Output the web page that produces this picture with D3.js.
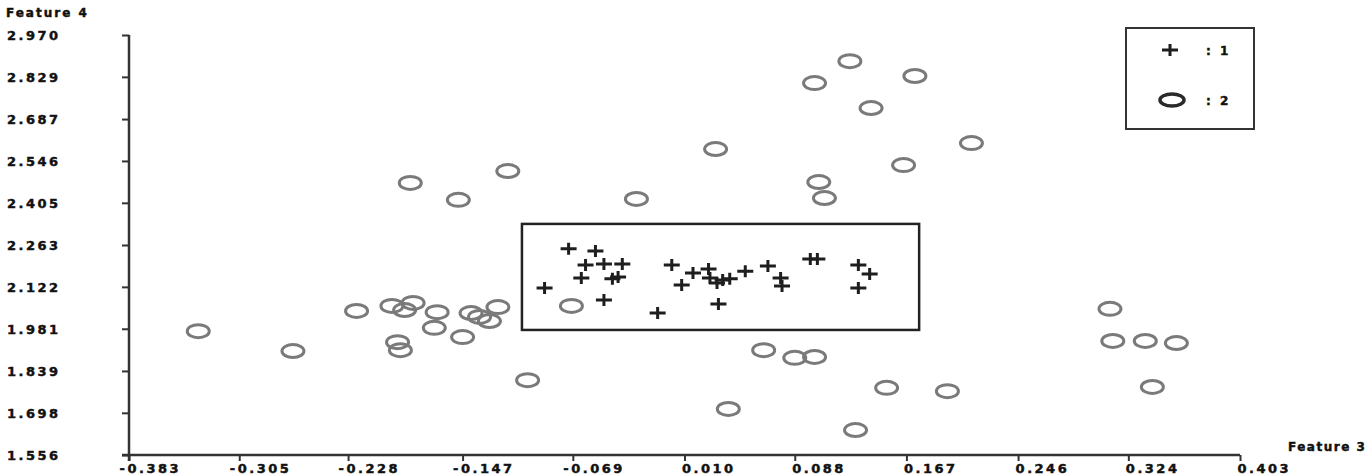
<!DOCTYPE html>
<html>
<head>
<meta charset="utf-8">
<script src="https://cdn.jsdelivr.net/npm/d3@7"></script>
<style>
  body { margin: 0; background: #fff; }
  text { font-family: "DejaVu Sans", sans-serif; font-weight: bold; fill: #111; stroke: #111; stroke-width: 0.45px; }
</style>
</head>
<body>
<div id="chart"></div>
<script>
// tick labels as printed on the axes
var xTicks = [-0.383, -0.305, -0.228, -0.147, -0.069, 0.010, 0.088, 0.167, 0.246, 0.324, 0.403];
var yTicks = [1.556, 1.698, 1.839, 1.981, 2.122, 2.263, 2.405, 2.546, 2.687, 2.829, 2.970];

// class 1 (+)
var class1X = [-0.089, -0.072, -0.053, -0.060, -0.047, -0.034, -0.063, -0.041, -0.037, -0.047,
  0.001, 0.008, 0.016, 0.027, 0.028, 0.033, 0.042, 0.053, 0.069, 0.078,
  0.079, 0.099, 0.104, 0.133, 0.141, 0.133, -0.009, 0.034, 0.037];
var class1Y = [2.118, 2.250, 2.243, 2.196, 2.199, 2.199, 2.152, 2.149, 2.155, 2.078,
  2.196, 2.128, 2.169, 2.182, 2.152, 2.135, 2.149, 2.175, 2.192, 2.152,
  2.125, 2.216, 2.216, 2.196, 2.165, 2.118, 2.034, 2.064, 2.145];

// class 2 (o)
var class2X = [-0.334, -0.267, -0.222, -0.197, -0.188, -0.182, -0.193, -0.191, -0.165, -0.167,
  -0.147, -0.141, -0.135, -0.128, -0.122, -0.101, -0.070, -0.184, -0.150, -0.115,
  -0.024, 0.032, 0.102, 0.127, 0.173, 0.142, 0.213, 0.165, 0.105, 0.109,
  0.066, 0.088, 0.102, 0.041, 0.153, 0.196, 0.131, 0.311, 0.313, 0.336,
  0.358, 0.341];
var class2Y = [1.973, 1.906, 2.041, 2.058, 2.044, 2.068, 1.936, 1.909, 2.037, 1.984,
  1.953, 2.034, 2.021, 2.007, 2.054, 1.808, 2.058, 2.472, 2.415, 2.512,
  2.418, 2.586, 2.808, 2.882, 2.832, 2.724, 2.606, 2.532, 2.475, 2.421,
  1.909, 1.883, 1.886, 1.711, 1.782, 1.771, 1.640, 2.048, 1.940, 1.940,
  1.933, 1.785];

// rectangle drawn around class 1 (data units)
var boxX = [-0.105, 0.176];
var boxY = [1.977, 2.334];

var width = 1368, height = 475;
var svg = d3.select("#chart").append("svg")
  .attr("width", width)
  .attr("height", height);

var x = d3.scaleLinear().domain([-0.383, 0.403]).range([129, 1240]);
var y = d3.scaleLinear().domain([1.556, 2.970]).range([455, 35]);

var axisColor = "#333";

// y axis
var yAxis = svg.append("g")
  .attr("transform", "translate(" + x(-0.383) + ",0)")
  .call(d3.axisLeft(y).tickValues(yTicks).tickSize(7).tickFormat(d3.format(".3f")));
yAxis.select(".domain").remove();
yAxis.selectAll("line").attr("stroke", axisColor).attr("stroke-width", 2);
yAxis.selectAll("text")
  .attr("x", -122).attr("text-anchor", "start")
  .attr("dy", "0.35em")
  .style("font-size", "13px").style("letter-spacing", "2.5px")
  .style("font-family", "DejaVu Sans").style("font-weight", "bold");
svg.append("line")
  .attr("x1", x(-0.383)).attr("x2", x(-0.383))
  .attr("y1", y(2.970)).attr("y2", y(1.556) + 6)
  .attr("stroke", axisColor).attr("stroke-width", 2.5);

// x axis
var xAxis = svg.append("g")
  .attr("transform", "translate(0," + y(1.556) + ")")
  .call(d3.axisBottom(x).tickValues(xTicks).tickSize(6).tickFormat(d3.format(".3f")));
xAxis.select(".domain").remove();
xAxis.selectAll("line").attr("stroke", axisColor).attr("stroke-width", 2);
xAxis.selectAll("text")
  .attr("y", 8).attr("dy", "0.75em")
  .attr("text-anchor", "start")
  .attr("x", function(d) { return d < 0 ? -10 : -3; })
  .style("font-size", "13px").style("letter-spacing", "2.5px")
  .style("font-family", "DejaVu Sans").style("font-weight", "bold")
  .text(function(d) { return d3.format(".3f")(d).replace("\u2212", "-"); });
svg.append("line")
  .attr("x1", x(-0.383) - 7).attr("x2", x(0.403))
  .attr("y1", y(1.556)).attr("y2", y(1.556))
  .attr("stroke", axisColor).attr("stroke-width", 2.5);

// axis titles
svg.append("text").attr("x", 6).attr("y", 17)
  .style("font-size", "12px").style("letter-spacing", "2px")
  .text("Feature 4");
svg.append("text").attr("x", 1288).attr("y", 451)
  .style("font-size", "12px").style("letter-spacing", "1.5px")
  .text("Feature 3");

// rectangle around class 1
svg.append("rect")
  .attr("x", x(boxX[0])).attr("y", y(boxY[1]))
  .attr("width", x(boxX[1]) - x(boxX[0]))
  .attr("height", y(boxY[0]) - y(boxY[1]))
  .attr("fill", "none").attr("stroke", "#222").attr("stroke-width", 2.5);

// class 2 circles
var c2 = class2X.map(function(v, i) { return { x: v, y: class2Y[i] }; });
svg.append("g").selectAll("ellipse")
  .data(c2).enter().append("ellipse")
  .attr("cx", function(d) { return x(d.x); })
  .attr("cy", function(d) { return y(d.y); })
  .attr("rx", 11).attr("ry", 6.5)
  .attr("fill", "none").attr("stroke", "#7a7a7a").attr("stroke-width", 3);

// class 1 plus signs
var c1 = class1X.map(function(v, i) { return { x: v, y: class1Y[i] }; });
function plusPath(cx, cy) {
  return "M" + (cx - 8) + "," + cy + "H" + (cx + 8) + "M" + cx + "," + (cy - 6) + "V" + (cy + 6);
}
svg.append("g").selectAll("path")
  .data(c1).enter().append("path")
  .attr("d", function(d) { return plusPath(x(d.x), y(d.y)); })
  .attr("stroke", "#1e1e1e").attr("stroke-width", 3).attr("fill", "none");

// legend
var legend = svg.append("g");
legend.append("rect")
  .attr("x", 1126).attr("y", 28).attr("width", 128).attr("height", 101)
  .attr("fill", "none").attr("stroke", "#333").attr("stroke-width", 2);
legend.append("path")
  .attr("d", plusPath(1170, 50))
  .attr("stroke", "#1e1e1e").attr("stroke-width", 3).attr("fill", "none");
legend.append("ellipse")
  .attr("cx", 1172).attr("cy", 100).attr("rx", 12).attr("ry", 6)
  .attr("fill", "none").attr("stroke", "#2a2a2a").attr("stroke-width", 3.5);
legend.append("text").attr("x", 1206).attr("y", 55)
  .style("font-size", "12px").style("letter-spacing", "2.5px").text(": 1");
legend.append("text").attr("x", 1206).attr("y", 105)
  .style("font-size", "12px").style("letter-spacing", "2.5px").text(": 2");
</script>
</body>
</html>
